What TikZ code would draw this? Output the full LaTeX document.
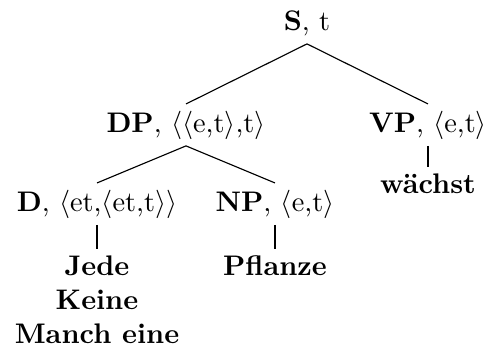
\documentclass[tikz,border=0pt]{standalone}
\begin{document}
\begin{tikzpicture}[x=0.353pt,y=-0.353pt,
  lab/.style={anchor=base, text height=7.5pt, text depth=2.5pt, inner xsep=0pt, inner ysep=2.2pt},
  leaf/.style={anchor=north, inner xsep=0pt, inner ysep=2.3pt, font=\bfseries, align=center},
  edge/.style={line width=0.4pt}]
\useasboundingbox (0,0) rectangle (487,350);
\node[lab] (S) at (307,30) {\textbf{S}, t};
\node[lab] (DP) at (186,132) {\textbf{DP}, $\langle\langle$e,t$\rangle$,t$\rangle$};
\node[lab] (VP) at (428,132) {\textbf{VP}, $\langle$e,t$\rangle$};
\node[lab] (D) at (97,211) {\textbf{D}, $\langle$et,$\langle$et,t$\rangle\rangle$};
\node[lab] (NP) at (275,211) {\textbf{NP}, $\langle$e,t$\rangle$};
\node[leaf] (W) at (428,167) {wächst};
\node[leaf] (J) at (97,249) {Jede\\Keine\\Manch eine};
\node[leaf] (P) at (275,249) {Pflanze};
\draw[edge] (S.south) -- (DP.north);
\draw[edge] (S.south) -- (VP.north);
\draw[edge] (DP.south) -- (D.north);
\draw[edge] (DP.south) -- (NP.north);
\draw[edge] (VP.south) -- (W.north);
\draw[edge] (D.south) -- (J.north);
\draw[edge] (NP.south) -- (P.north);
\end{tikzpicture}
\end{document}
